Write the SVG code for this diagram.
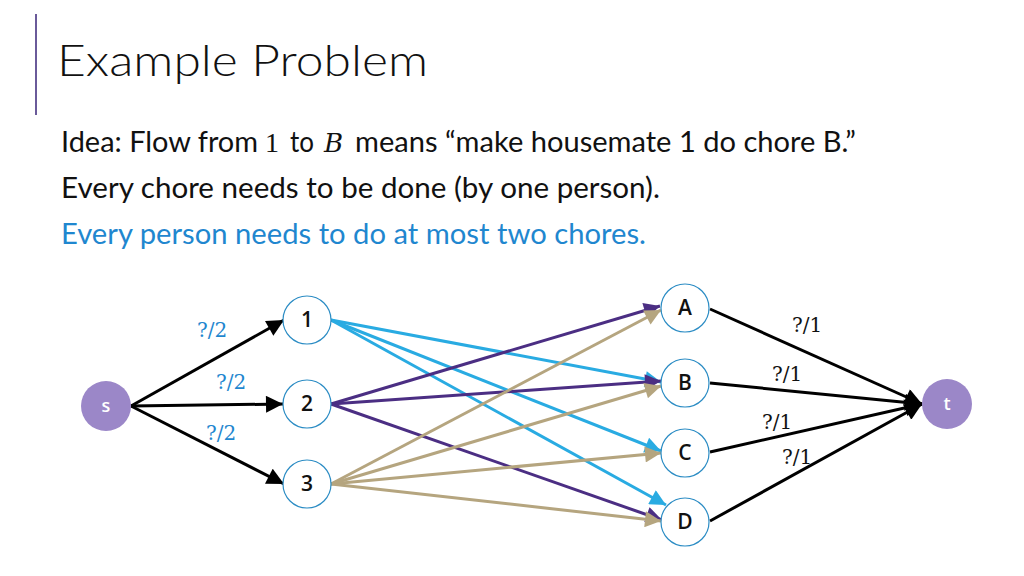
<svg xmlns="http://www.w3.org/2000/svg" width="1024" height="576" viewBox="0 0 1024 576">
<style>
.body{font-family:Lato,"Open Sans","Liberation Sans",sans-serif;font-size:28px;fill:#111}
.node{fill:#fff;stroke:#2B8CC4;stroke-width:1.2}
.term{fill:#9B87C8}
.nl{font-family:"Open Sans","Noto Sans",sans-serif;font-size:21px;font-weight:600;fill:#111;text-anchor:middle}
.tl{font-family:"Open Sans","Noto Sans",sans-serif;font-size:18px;font-weight:600;fill:#fff;text-anchor:middle}
.cap2{font-family:"DejaVu Serif","Liberation Serif",serif;font-size:20px;fill:#1F87CF}
.cap1{font-family:"DejaVu Serif","Liberation Serif",serif;font-size:20px;fill:#111}
.e{fill:none;stroke-width:3}
.k{stroke:#000;marker-end:url(#mk)}
.c{stroke:#29ABE2;marker-end:url(#mc)}
.p{stroke:#4B2E83;marker-end:url(#mp)}
.t{stroke:#B5A57F;marker-end:url(#mt)}
</style>
<defs>
<marker id="mk" viewBox="0 0 10 10" refX="10" refY="5" markerWidth="19" markerHeight="17" markerUnits="userSpaceOnUse" orient="auto"><path d="M0,0 L10,5 L0,10 z" fill="#000"/></marker>
<marker id="mc" viewBox="0 0 10 10" refX="10" refY="5" markerWidth="19" markerHeight="16" markerUnits="userSpaceOnUse" orient="auto"><path d="M0,0 L10,5 L0,10 z" fill="#29ABE2"/></marker>
<marker id="mp" viewBox="0 0 10 10" refX="10" refY="5" markerWidth="19" markerHeight="16" markerUnits="userSpaceOnUse" orient="auto"><path d="M0,0 L10,5 L0,10 z" fill="#4B2E83"/></marker>
<marker id="mt" viewBox="0 0 10 10" refX="10" refY="5" markerWidth="19" markerHeight="16" markerUnits="userSpaceOnUse" orient="auto"><path d="M0,0 L10,5 L0,10 z" fill="#B5A57F"/></marker>
</defs>
<rect width="1024" height="576" fill="#fff"/>
<line x1="36" y1="14" x2="36" y2="115" stroke="#6A5A9A" stroke-width="2"/>
<text x="57" y="76" font-family="Lato,Open Sans,sans-serif" font-size="43" font-weight="300" fill="#111" textLength="371" lengthAdjust="spacingAndGlyphs">Example Problem</text>
<text class="body" y="152"><tspan x="61" textLength="197" lengthAdjust="spacingAndGlyphs">Idea: Flow from</tspan><tspan x="265" font-family="Liberation Serif,serif" font-size="28">1</tspan><tspan x="290" textLength="24" lengthAdjust="spacingAndGlyphs">to</tspan><tspan x="324" font-family="DejaVu Serif,serif" font-size="26" font-style="italic">B</tspan><tspan x="355" textLength="501" lengthAdjust="spacingAndGlyphs">means “make housemate 1 do chore B.”</tspan></text>
<text class="body" x="61" y="198" textLength="599" lengthAdjust="spacingAndGlyphs">Every chore needs to be done (by one person).</text>
<text class="body" x="61" y="244" style="fill:#1F87CF" textLength="585" lengthAdjust="spacingAndGlyphs">Every person needs to do at most two chores.</text>
<g id="connectors">
<line class="e k" x1="131" y1="406" x2="284" y2="320"/>
<line class="e k" x1="131" y1="406" x2="283" y2="404"/>
<line class="e k" x1="131" y1="406" x2="284" y2="484"/>
<line class="e c" x1="331" y1="320" x2="661" y2="382"/>
<line class="e c" x1="331" y1="320" x2="661" y2="451"/>
<line class="e c" x1="331" y1="320" x2="666" y2="505"/>
<line class="e p" x1="331" y1="404" x2="660" y2="306"/>
<line class="e p" x1="331" y1="404" x2="661" y2="381"/>
<line class="e p" x1="331" y1="404" x2="662" y2="520"/>
<line class="e t" x1="331" y1="484" x2="661" y2="310"/>
<line class="e t" x1="331" y1="484" x2="661" y2="386"/>
<line class="e t" x1="331" y1="484" x2="661" y2="453"/>
<line class="e t" x1="331" y1="484" x2="661" y2="521"/>
<line class="e k" x1="710" y1="309" x2="922" y2="404"/>
<line class="e k" x1="710" y1="383" x2="922" y2="404"/>
<line class="e k" x1="710" y1="452" x2="922" y2="404"/>
<line class="e k" x1="710" y1="521" x2="922" y2="404"/>
<text class="cap2" x="197" y="337">?/2</text>
<text class="cap2" x="216" y="389">?/2</text>
<text class="cap2" x="206" y="440">?/2</text>
<text class="cap1" x="792" y="332">?/1</text>
<text class="cap1" x="772" y="381">?/1</text>
<text class="cap1" x="762" y="429">?/1</text>
<text class="cap1" x="782" y="464">?/1</text>
</g>
<g id="s"><circle class="term" cx="106" cy="406" r="25"/><text class="tl" x="106" y="412">s</text></g>
<g id="n1"><circle class="node" cx="307" cy="320" r="24"/><text class="nl" x="307" y="327">1</text></g>
<g id="n2"><circle class="node" cx="307" cy="404" r="24"/><text class="nl" x="307" y="411">2</text></g>
<g id="n3"><circle class="node" cx="307" cy="484" r="24"/><text class="nl" x="307" y="491">3</text></g>
<g id="A"><circle class="node" cx="685" cy="308" r="24"/><text class="nl" x="685" y="315">A</text></g>
<g id="B"><circle class="node" cx="685" cy="383" r="24"/><text class="nl" x="685" y="390">B</text></g>
<g id="C"><circle class="node" cx="685" cy="453" r="24"/><text class="nl" x="685" y="460">C</text></g>
<g id="D"><circle class="node" cx="685" cy="522" r="24"/><text class="nl" x="685" y="529">D</text></g>
<g id="t"><circle class="term" cx="947" cy="404" r="25"/><text class="tl" x="947" y="410">t</text></g>
</svg>
